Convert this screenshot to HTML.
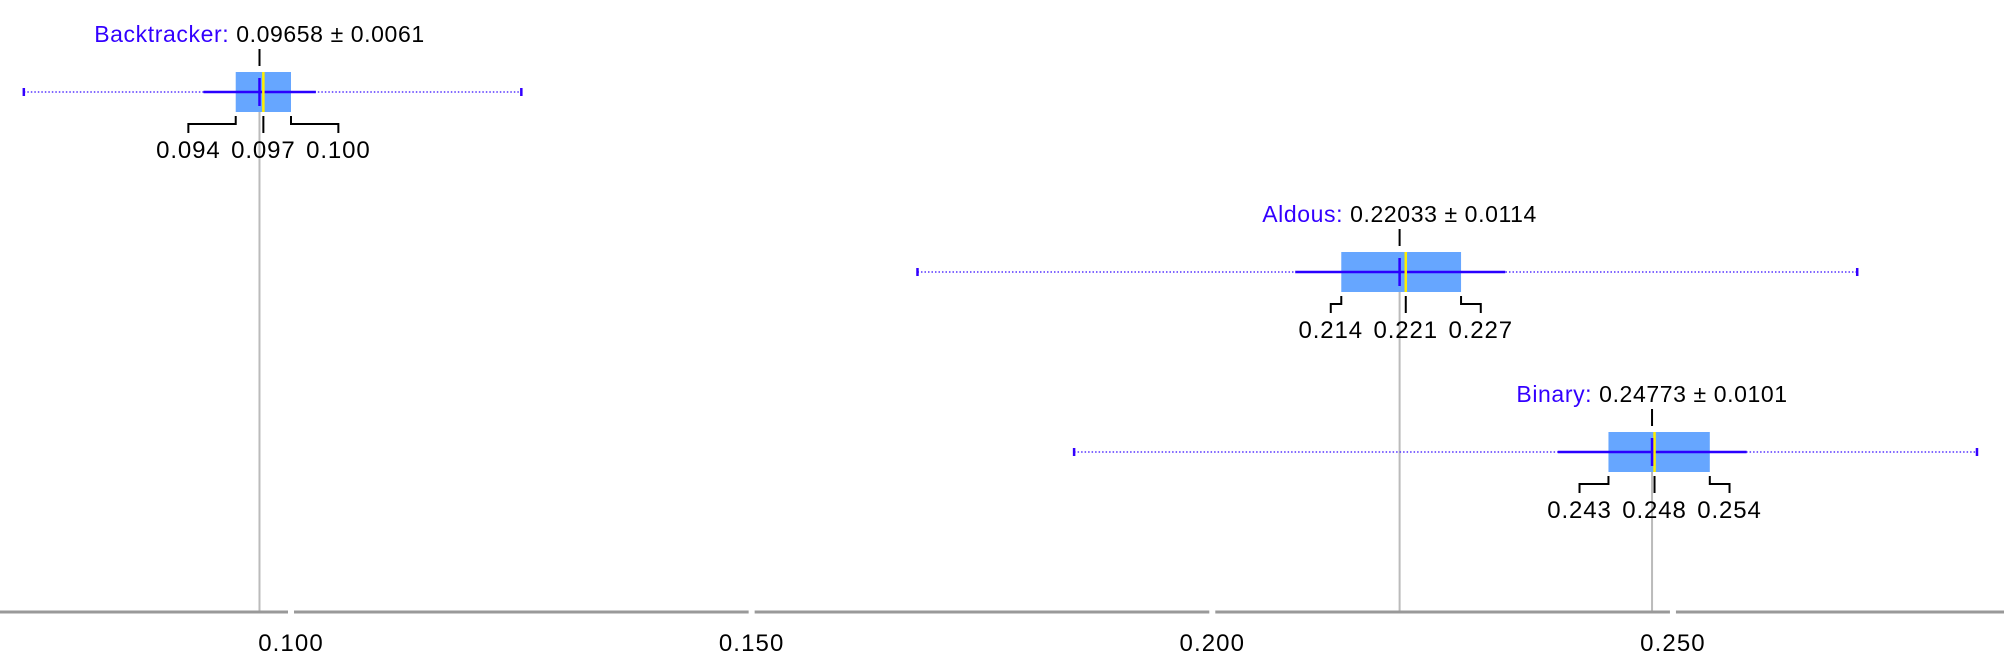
<!DOCTYPE html>
<html><head><meta charset="utf-8"><style>
html,body{margin:0;padding:0;background:#fff;}
svg{display:block;font-family:"Liberation Sans",sans-serif;}
</style></head><body>
<svg id="chart" width="2004" height="672" viewBox="0 0 2004 672"></svg>
<script>
const names = ["Backtracker","Aldous","Binary"];
const means = [0.09658,0.22033,0.24773];
const stds = ["0.0061","0.0114","0.0101"];
const medians = [0.097,0.221,0.248];
const q1s = [0.094,0.214,0.243];
const q3s = [0.100,0.227,0.254];
const whiskLo = [0.0905,0.209,0.2375];
const whiskHi = [0.1027,0.2318,0.258];
const mins = [0.071,0.168,0.185];
const maxs = [0.125,0.270,0.283];
const ticks = [0.100,0.150,0.200,0.250];

const NS="http://www.w3.org/2000/svg";
const svg=document.getElementById('chart');
const x=v=>291+(v-0.1)*9213;
const rowY=i=>92+i*180;
const axisY=612;
function mk(tag,attrs,parent){const e=document.createElementNS(NS,tag);for(const k in attrs)e.setAttribute(k,attrs[k]);(parent||svg).appendChild(e);return e;}

names.forEach((n,i)=>{
  const l=mk('line',{x1:x(means[i]),x2:x(means[i]),y1:rowY(i)+20,y2:axisY,stroke:'#bbb','stroke-width':2});
  
  
});
const ax=mk('line',{x1:0,x2:2004,y1:axisY,y2:axisY,stroke:'#999','stroke-width':3});


ticks.forEach(t=>{
  const g=mk('rect',{x:x(t)-3,y:axisY-4,width:6,height:8,fill:'#fff'});
  
  
  const tx=mk('text',{x:x(t),y:axisY+39,'text-anchor':'middle','font-size':24,'letter-spacing':1.1,fill:'#000'});
  tx.textContent=t.toFixed(3);
  
  
});

names.forEach((n,i)=>{
  const y=rowY(i);
  const g=mk('g',{});
  
  
  mk('line',{x1:x(mins[i]),x2:x(maxs[i]),y1:y,y2:y,stroke:'#5533ff','stroke-width':1.5,'stroke-dasharray':'1.5 2'},g);
  mk('line',{x1:x(mins[i]),x2:x(mins[i]),y1:y-4,y2:y+4,stroke:'#3300ff','stroke-width':2.5},g);
  mk('line',{x1:x(maxs[i]),x2:x(maxs[i]),y1:y-4,y2:y+4,stroke:'#3300ff','stroke-width':2.5},g);
  mk('rect',{x:x(q1s[i]),y:y-20,width:x(q3s[i])-x(q1s[i]),height:40,fill:'#66a6ff'},g);
  mk('line',{x1:x(whiskLo[i]),x2:x(whiskHi[i]),y1:y,y2:y,stroke:'#2a00ff','stroke-width':2.5},g);
  mk('line',{x1:x(medians[i]),x2:x(medians[i]),y1:y-20,y2:y+20,stroke:'#ffee00','stroke-width':2.5},g);
  mk('line',{x1:x(means[i]),x2:x(means[i]),y1:y-14,y2:y+14,stroke:'#2a00ff','stroke-width':2.5},g);
  const mx=x(means[i]);
  mk('line',{x1:mx,x2:mx,y1:y-43,y2:y-26,stroke:'#000','stroke-width':2},g);
  const t=mk('text',{x:mx,y:y-50,'text-anchor':'middle','font-size':23,'letter-spacing':0.6,fill:'#000'},g);
  const s1=mk('tspan',{fill:'#3300ff'},t);s1.textContent=n+': ';
  const s2=mk('tspan',{},t);s2.textContent=means[i].toFixed(5)+' \u00b1 '+stds[i];
  
  
  const md=x(medians[i]);
  const lx=md-75, rx=md+75, by=y+24;
  mk('line',{x1:md,x2:md,y1:by,y2:by+17,stroke:'#000','stroke-width':2},g);
  mk('polyline',{points:`${x(q1s[i])},${by} ${x(q1s[i])},${by+8} ${lx},${by+8} ${lx},${by+17}`,fill:'none',stroke:'#000','stroke-width':2},g);
  mk('polyline',{points:`${x(q3s[i])},${by} ${x(q3s[i])},${by+8} ${rx},${by+8} ${rx},${by+17}`,fill:'none',stroke:'#000','stroke-width':2},g);
  [[lx,q1s[i]],[md,medians[i]],[rx,q3s[i]]].forEach(([px,v],k)=>{
    const q=mk('text',{x:px,y:y+66,'text-anchor':'middle','font-size':24,'letter-spacing':0.9,fill:'#000'},g);
    q.textContent=v.toFixed(3);
    
    
  });
});
</script>
</body></html>
